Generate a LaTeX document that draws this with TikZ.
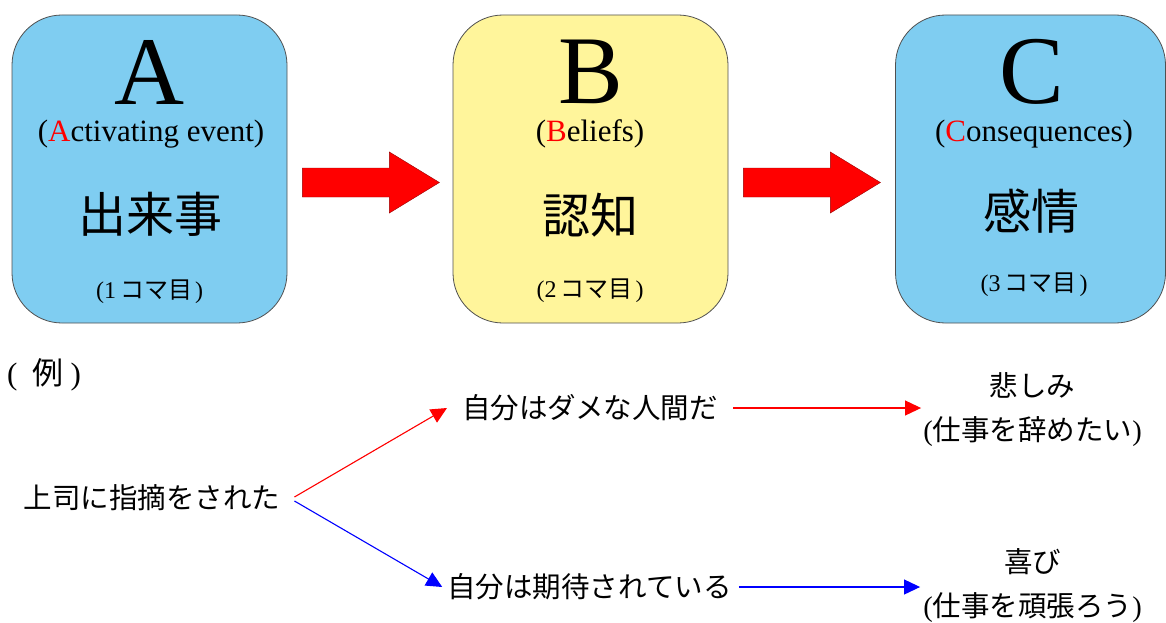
\documentclass[tikz,border=0pt]{standalone}
\usepackage{fontspec}
\setmainfont{Liberation Serif}
\newfontfamily\jp{Noto Sans CJK JP}
\usetikzlibrary{arrows.meta,calc}
\definecolor{boxblue}{RGB}{127,205,241}
\definecolor{boxyellow}{RGB}{255,245,155}
\definecolor{edgegray}{RGB}{80,80,80}
\newcommand{\fsz}[1]{\fontsize{#1}{#1}\selectfont}
\begin{document}
\begin{tikzpicture}[x=1pt,y=-1pt,
  abox/.style={draw=edgegray, line width=0.8pt, rounded corners=50pt, minimum width=275pt, minimum height=308pt, inner sep=0pt},
  big/.style={font=\fsz{97}, inner sep=0pt, anchor=base},
  sub/.style={font=\fsz{31}, inner sep=0pt, anchor=base},
  kanji/.style={font=\fsz{48}\jp, inner sep=0pt},
  koma/.style={font=\fsz{24}, inner sep=0pt},
  jtxt/.style={font=\fontsize{28.5}{44}\selectfont\jp, inner sep=0pt, align=center},
  blockarr/.style={fill=red, draw=red!60!black, line width=0.4pt},
  redline/.style={draw=red, line width=1.1pt, -{Triangle[length=16pt,width=15pt]}},
  blueline/.style={draw=blue, line width=1.1pt, -{Triangle[length=16pt,width=15pt]}}]
\useasboundingbox (0,0) rectangle (1166,623);

% boxes
\node[abox, fill=boxblue] (A) at (149.5,169) {};
\node[abox, fill=boxyellow] (B) at (590.5,169) {};
\node[abox, fill=boxblue, minimum width=270pt] (C) at (1030.5,169) {};

% box A texts
\node[big] (Abig) at (149.5,105) {A};
\node[sub] (Asub) at (151,142) {(\textcolor{red}{A}ctivating event)};
\node[kanji] (Akan) at (150,214) {出来事};
\node[koma] (Akoma) at (149.5,292) {(1\kern4pt{\jp コマ目}\kern3pt)};

% box B texts
\node[big] (Bbig) at (590.5,104) {B};
\node[sub] (Bsub) at (590,142) {(\textcolor{red}{B}eliefs)};
\node[kanji] (Bkan) at (590,215) {認知};
\node[koma] (Bkoma) at (590,291) {(2\kern4pt{\jp コマ目}\kern3pt)};

% box C texts
\node[big] (Cbig) at (1032,104) {C};
\node[sub] (Csub) at (1034,142) {(\textcolor{red}{C}onsequences)};
\node[kanji] (Ckan) at (1031,211) {感情};
\node[koma] (Ckoma) at (1034,285) {(3\kern4pt{\jp コマ目}\kern3pt)};

% block arrows
\draw[blockarr] ($(A.east)+(15,-1)$) -- ++(87,0) -- ++(0,-16) -- ++(50,30.5) -- ++(-50,30.5) -- ++(0,-16) -- ++(-87,0) -- cycle;
\draw[blockarr] ($(B.east)+(15,-1)$) -- ++(87,0) -- ++(0,-16) -- ++(50,30.5) -- ++(-50,30.5) -- ++(0,-16) -- ++(-87,0) -- cycle;

% example
\node[font=\fsz{31}, inner sep=0pt, anchor=west] (ex) at (7,375) {(\kern15pt{\jp 例}\kern7pt)};
\node[jtxt] (s) at (152,498) {上司に指摘をされた};
\node[jtxt] (d1) at (590,408) {自分はダメな人間だ};
\node[jtxt] (d2) at (589.5,587) {自分は期待されている};
\node[jtxt] (e1) at (1032.5,410) {悲しみ\\{\rmfamily(}仕事を辞めたい{\rmfamily)}};
\node[jtxt] (e2) at (1032.5,585.5) {喜び\\{\rmfamily(}仕事を頑張ろう{\rmfamily)}};

\draw[redline] ([shift={(14,-1)}]s.east) -- ([xshift=-15]d1.west);
\draw[blueline] ([shift={(14,3)}]s.east) -- ([xshift=-5]d2.west);
\draw[redline] ([xshift=15]d1.east) -- ($(e1.west |- d1.east)+(-2,0)$);
\draw[blueline] ([xshift=7]d2.east) -- ($(e2.west |- d2.east)+(-3,0)$);
\end{tikzpicture}
\end{document}
